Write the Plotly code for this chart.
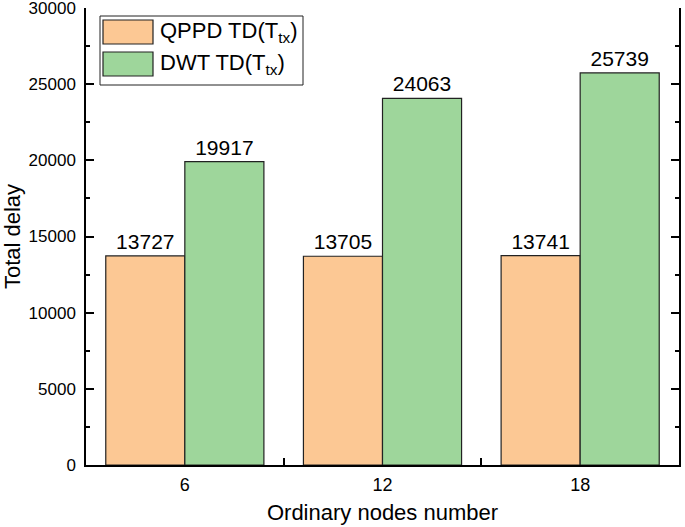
import plotly.graph_objects as go

categories = ["6", "12", "18"]
qppd = [13727, 13705, 13741]
dwt = [19917, 24063, 25739]
series_names = ["QPPD TD(T<sub>tx</sub>)", "DWT TD(T<sub>tx</sub>)"]
series_colors = ["#FCC894", "#9ED69B"]
y_ticks = [0, 5000, 10000, 15000, 20000, 25000, 30000]

font = "Liberation Sans, Arial, sans-serif"

W, H = 685, 527
L, R, T, B = 86, 679, 8, 465

fig = go.Figure()
for name, vals, col in zip(series_names, [qppd, dwt], series_colors):
    fig.add_trace(go.Bar(
        x=categories, y=vals, name=name,
        marker=dict(color=col, line=dict(color="#222222", width=1.2)),
        text=[str(v) for v in vals], textposition="outside",
        textfont=dict(size=21, color="black", family=font), cliponaxis=False,
        showlegend=False,
    ))

def px(x):
    return (x - L) / (R - L)
def py(y):
    return (B - y) / (B - T)

shapes = [dict(type="rect", xref="paper", yref="paper",
               x0=px(100), x1=px(303), y0=py(85), y1=py(16),
               line=dict(color="#222222", width=1), fillcolor="white")]
annotations = []
for i, (name, col) in enumerate(zip(series_names, series_colors)):
    top = 20 + i * 32
    shapes.append(dict(type="rect", xref="paper", yref="paper",
                       x0=px(103), x1=px(153), y0=py(top + 24), y1=py(top),
                       line=dict(color="#222222", width=1.2), fillcolor=col))
    annotations.append(dict(xref="paper", yref="paper", x=px(158), y=py(top + 12),
                            xanchor="left", yanchor="middle", showarrow=False,
                            text=name, font=dict(size=22, family=font, color="black")))

fig.update_layout(
    width=W, height=H,
    margin=dict(l=L, r=W - R, t=T, b=H - B),
    paper_bgcolor="white", plot_bgcolor="white",
    barmode="group", bargap=0.2, bargroupgap=0,
    font=dict(family=font, size=18, color="black"),
    showlegend=False,
    shapes=shapes, annotations=annotations,
    xaxis=dict(
        title=dict(text="Ordinary nodes number", font=dict(size=22), standoff=10),
        type="category", range=[-0.5, 2.5], tickson="boundaries",
        ticks="inside", ticklen=7, tickcolor="black", tickwidth=1.5,
        showline=True, linecolor="black", linewidth=1.5, mirror=False,
        showgrid=False, tickfont=dict(size=18), automargin=False,
        ticklabelstandoff=3,
    ),
    yaxis=dict(
        title=dict(text="Total delay", font=dict(size=22), standoff=2),
        range=[0, 30000], tickvals=y_ticks, ticktext=[str(v) for v in y_ticks],
        ticks="inside", ticklen=8, tickcolor="black", tickwidth=1.5,
        minor=dict(dtick=2500, ticks="inside", ticklen=4, tickcolor="black",
                   tickwidth=1.5, showgrid=False),
        showline=True, linecolor="black", linewidth=1.5, mirror="ticks",
        showgrid=False, zeroline=False, tickfont=dict(size=17), automargin=False,
        ticklabelstandoff=5, ticklabeloverflow="allow",
    ),
)

fig.write_html("out.html", config={"displayModeBar": False},
               post_script="document.body.style.margin='0';")
